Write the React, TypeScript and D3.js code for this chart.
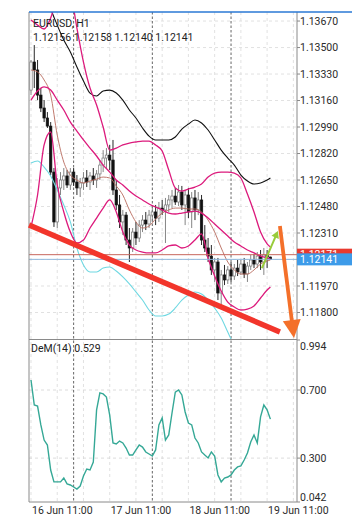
import React from 'react';
import * as d3 from 'd3';

// header
const symbol = 'EURUSD, H1';
const lastOhlc = ['1.12156', '1.12158', '1.12140', '1.12141'];

// hourly candles, bar 0 = 16 Jun 11:00
const opens = [1.13227, 1.13407, 1.13356, 1.13195, 1.13112, 1.13048, 1.12996, 1.12701, 1.12381, 1.12599,
  1.12650, 1.12676, 1.12618, 1.12701, 1.12637, 1.12599, 1.12631, 1.12663, 1.12637, 1.12676,
  1.12650, 1.12689, 1.12746, 1.12791, 1.12810, 1.12778, 1.12586, 1.12490, 1.12381, 1.12425,
  1.12265, 1.12214, 1.12316, 1.12278, 1.12361, 1.12393, 1.12368, 1.12425, 1.12445, 1.12406,
  1.12470, 1.12458, 1.12490, 1.12522, 1.12547, 1.12509, 1.12573, 1.12490, 1.12554, 1.12445,
  1.12535, 1.12458, 1.12522, 1.12265, 1.12214, 1.12162, 1.12073, 1.12124, 1.11925, 1.12041,
  1.12009, 1.12073, 1.12034, 1.12085, 1.12060, 1.12111, 1.12047, 1.12098, 1.12137, 1.12111,
  1.12162, 1.12124, 1.12169, 1.12156];
const highs = [1.13420, 1.13516, 1.13420, 1.13240, 1.13163, 1.13086, 1.13022, 1.12727, 1.12663, 1.12701,
  1.12727, 1.12714, 1.12727, 1.12727, 1.12682, 1.12663, 1.12701, 1.12714, 1.12701, 1.12727,
  1.12714, 1.12778, 1.12842, 1.12855, 1.12875, 1.12907, 1.12650, 1.12554, 1.12458, 1.12445,
  1.12342, 1.12342, 1.12381, 1.12393, 1.12425, 1.12445, 1.12458, 1.12490, 1.12490, 1.12509,
  1.12522, 1.12535, 1.12554, 1.12586, 1.12599, 1.12618, 1.12612, 1.12586, 1.12599, 1.12573,
  1.12586, 1.12573, 1.12554, 1.12361, 1.12278, 1.12233, 1.12150, 1.12150, 1.12073, 1.12105,
  1.12098, 1.12124, 1.12111, 1.12137, 1.12137, 1.12150, 1.12124, 1.12169, 1.12175, 1.12188,
  1.12201, 1.12214, 1.12201, 1.12158];
const lows = [1.13195, 1.13240, 1.13163, 1.13086, 1.13022, 1.12984, 1.12682, 1.12349, 1.12342, 1.12554,
  1.12586, 1.12599, 1.12586, 1.12612, 1.12554, 1.12541, 1.12586, 1.12605, 1.12586, 1.12618,
  1.12599, 1.12650, 1.12701, 1.12727, 1.12714, 1.12554, 1.12458, 1.12342, 1.12297, 1.12233,
  1.12124, 1.12188, 1.12233, 1.12252, 1.12316, 1.12329, 1.12342, 1.12381, 1.12361, 1.12381,
  1.12425, 1.12246, 1.12445, 1.12470, 1.12490, 1.12483, 1.12458, 1.12361, 1.12406, 1.12342,
  1.12393, 1.12425, 1.12233, 1.12188, 1.12124, 1.12041, 1.11996, 1.11880, 1.11848, 1.11976,
  1.11983, 1.11996, 1.12009, 1.12034, 1.12041, 1.12021, 1.11996, 1.12073, 1.12085, 1.12085,
  1.12073, 1.12041, 1.12085, 1.12140];
const closes = [1.13407, 1.13356, 1.13195, 1.13112, 1.13048, 1.12996, 1.12701, 1.12381, 1.12599, 1.12650,
  1.12676, 1.12618, 1.12701, 1.12637, 1.12599, 1.12631, 1.12663, 1.12637, 1.12676, 1.12650,
  1.12689, 1.12746, 1.12791, 1.12810, 1.12778, 1.12586, 1.12490, 1.12381, 1.12425, 1.12265,
  1.12214, 1.12316, 1.12278, 1.12361, 1.12393, 1.12368, 1.12425, 1.12445, 1.12406, 1.12470,
  1.12458, 1.12490, 1.12522, 1.12547, 1.12509, 1.12573, 1.12490, 1.12554, 1.12445, 1.12535,
  1.12458, 1.12522, 1.12265, 1.12214, 1.12162, 1.12073, 1.12124, 1.11925, 1.12041, 1.12009,
  1.12073, 1.12034, 1.12085, 1.12060, 1.12111, 1.12047, 1.12098, 1.12137, 1.12111, 1.12162,
  1.12124, 1.12169, 1.12156, 1.12141];

// indicator lines, read every second bar
const ovIdx = [0, 2, 4, 6, 8, 10, 12, 14, 16, 18, 20, 22, 24, 26, 28, 30, 32, 34, 36, 38,
  40, 42, 44, 46, 48, 50, 52, 54, 56, 58, 60, 62, 64, 66, 68, 70, 72, 73];
const bbUpper = [1.13676, 1.13644, 1.13619, 1.13689, 1.13837, 1.13965, 1.13869, 1.13625, 1.13407, 1.13240,
  1.13131, 1.12990, 1.12842, 1.12855, 1.12875, 1.12887, 1.12894, 1.12900, 1.12900, 1.12875,
  1.12836, 1.12714, 1.12599, 1.12579, 1.12592, 1.12605, 1.12624, 1.12669, 1.12695, 1.12701,
  1.12701, 1.12695, 1.12663, 1.12560, 1.12445, 1.12316, 1.12240, 1.12220];
const bbMiddle = [1.13163, 1.13221, 1.13247, 1.13227, 1.13163, 1.13099, 1.13022, 1.12964, 1.12907, 1.12855,
  1.12804, 1.12746, 1.12701, 1.12650, 1.12618, 1.12579, 1.12547, 1.12522, 1.12496, 1.12477,
  1.12458, 1.12438, 1.12432, 1.12438, 1.12445, 1.12451, 1.12438, 1.12406, 1.12368, 1.12329,
  1.12291, 1.12252, 1.12227, 1.12201, 1.12182, 1.12162, 1.12150, 1.12143];
const bbLower = [1.12349, 1.12554, 1.12875, 1.12958, 1.12618, 1.12445, 1.12316, 1.12246, 1.12265, 1.12342,
  1.12406, 1.12470, 1.12522, 1.12445, 1.12316, 1.12233, 1.12201, 1.12188, 1.12182, 1.12182,
  1.12201, 1.12227, 1.12233, 1.12214, 1.12227, 1.12265, 1.12304, 1.12150, 1.12034, 1.11938,
  1.11867, 1.11835, 1.11816, 1.11822, 1.11842, 1.11893, 1.11944, 1.11964];
const maLine = [1.13356, 1.13343, 1.13292, 1.13195, 1.12939, 1.12765, 1.12682, 1.12650, 1.12631, 1.12644,
  1.12656, 1.12669, 1.12663, 1.12612, 1.12554, 1.12458, 1.12381, 1.12342, 1.12355, 1.12400,
  1.12438, 1.12458, 1.12470, 1.12470, 1.12464, 1.12464, 1.12445, 1.12393, 1.12316, 1.12214,
  1.12124, 1.12073, 1.12047, 1.12047, 1.12073, 1.12111, 1.12130, 1.12137];
const envUpper = [1.14190, 1.14061, 1.13920, 1.13753, 1.13644, 1.13548, 1.13471, 1.13375, 1.13285, 1.13208,
  1.13189, 1.13221, 1.13227, 1.13208, 1.13163, 1.13099, 1.13048, 1.12984, 1.12932, 1.12907,
  1.12907, 1.12907, 1.12926, 1.12977, 1.13009, 1.13035, 1.13016, 1.12971, 1.12907, 1.12842,
  1.12791, 1.12746, 1.12682, 1.12644, 1.12624, 1.12631, 1.12650, 1.12663];
const envLower = [1.12759, 1.12772, 1.12733, 1.12676, 1.12586, 1.12490, 1.12381, 1.12214, 1.12105, 1.12060,
  1.12060, 1.12085, 1.12092, 1.12066, 1.12028, 1.11983, 1.11932, 1.11880, 1.11816, 1.11778,
  1.11778, 1.11790, 1.11829, 1.11880, 1.11912, 1.11932, 1.11919, 1.11880, 1.11829, 1.11765,
  1.11675, 1.11585, 1.11508, 1.11444, 1.11393, 1.11354, 1.11329, 1.11316];

// DeMarker(14), one per bar
const dem = [0.759, 0.612, 0.606, 0.495, 0.406, 0.377, 0.230, 0.160, 0.160, 0.160,
  0.183, 0.148, 0.142, 0.130, 0.118, 0.136, 0.195, 0.236, 0.230, 0.277,
  0.583, 0.683, 0.677, 0.659, 0.553, 0.389, 0.383, 0.400, 0.389, 0.359,
  0.318, 0.318, 0.348, 0.377, 0.365, 0.336, 0.324, 0.312, 0.348, 0.495,
  0.536, 0.406, 0.436, 0.565, 0.688, 0.700, 0.671, 0.571, 0.506, 0.495,
  0.418, 0.389, 0.336, 0.318, 0.301, 0.336, 0.312, 0.201, 0.160, 0.183,
  0.189, 0.201, 0.230, 0.248, 0.254, 0.289, 0.330, 0.395, 0.436, 0.389,
  0.542, 0.612, 0.583, 0.529];
const demName = 'DeM(14)';

// axes
const priceTicks = [1.1367, 1.135, 1.1333, 1.1316, 1.1299, 1.1282, 1.1265, 1.1248, 1.1231, 1.1214, 1.1197, 1.118];
const demTicks = [0.994, 0.7, 0.3, 0.042];
const demGrid = [0.7, 0.3];
const gridBars = [0, 8, 16, 24, 32, 40, 48, 56, 64, 72, 80];
const daySeparators = [13, 37, 61];
const timeBars = [0, 24, 48, 72];
const timeTexts = ['16 Jun 11:00', '17 Jun 11:00', '18 Jun 11:00', '19 Jun 11:00'];
const askPrice = 1.12171;
const bidPrice = 1.12141;

// drawings [bar, price]
const trendLine = [[-0.6, 1.12361], [75.9, 1.11675]];
const downArrow = [[75.9, 1.12355], [80.2, 1.11636]];
const upArrow = [[70.4, 1.12085], [75.3, 1.12323]];

const L = 29, R = 297, T = 12, MB = 339, DB = 502;
const font = 'Roboto, "DejaVu Sans", sans-serif';

function head(x1, y1, x2, y2, len, half) {
  const dx = x2 - x1, dy = y2 - y1;
  const n = Math.sqrt(dx * dx + dy * dy);
  const ux = dx / n, uy = dy / n;
  const bx = x2 - ux * len, by = y2 - uy * len;
  return [[x2, y2], [bx - uy * half, by + ux * half], [bx + uy * half, by - ux * half]]
    .map(p => p.join(',')).join(' ');
}

export default function App() {
  const x = d3.scaleLinear().domain([0, 73]).range([31, 270.4]);
  const y = d3.scaleLinear().domain([1.1163, 1.13728]).range([MB, T]);
  const yd = d3.scaleLinear().domain([0.042, 0.994]).range([DB, 340]);

  const ovPath = (vals) => d3.line()
    .x((_, k) => x(ovIdx[k]))
    .y(v => y(v))
    .curve(d3.curveMonotoneX)(vals);

  const demPath = d3.line()
    .x((_, k) => x(k))
    .y(v => yd(v))(dem);

  const tl = trendLine.map(d => [x(d[0]), y(d[1])]);
  const da = downArrow.map(d => [x(d[0]), y(d[1])]);
  const ua = upArrow.map(d => [x(d[0]), y(d[1])]);

  // shorten the arrow shafts so the heads sit at the tip
  const shaft = (a, len) => {
    const dx = a[1][0] - a[0][0], dy = a[1][1] - a[0][1];
    const n = Math.sqrt(dx * dx + dy * dy);
    return [a[1][0] - dx / n * len, a[1][1] - dy / n * len];
  };
  const daEnd = shaft(da, 14);
  const uaEnd = shaft(ua, 5);

  const askY = y(askPrice), bidY = y(bidPrice);

  return (
    <div>
      <style>{'body{margin:0;background:#fff}'}</style>
      <svg width={362} height={527} style={{ display: 'block', fontFamily: font }}>
        <defs>
          <clipPath id="main-clip">
            <rect x={L} y={T} width={R - L} height={MB - T} />
          </clipPath>
          <clipPath id="dem-clip">
            <rect x={L} y={MB} width={R - L} height={DB - MB} />
          </clipPath>
          <clipPath id="ask-clip">
            <rect x={R} y={askY - 6} width={55} height={bidY - askY} />
          </clipPath>
        </defs>
        <rect width={362} height={527} fill="#fff" />

        {/* grid */}
        {gridBars.map(b => (
          <line key={'gv' + b} x1={x(b)} x2={x(b)} y1={T} y2={DB}
            stroke="#d9d9d9" strokeWidth={0.8} strokeDasharray="3,3" />
        ))}
        {priceTicks.map(p => (
          <line key={'gh' + p} x1={L} x2={R} y1={y(p)} y2={y(p)}
            stroke="#d9d9d9" strokeWidth={0.8} strokeDasharray="3,3" />
        ))}
        {demGrid.map(v => (
          <line key={'gd' + v} x1={L} x2={R} y1={yd(v)} y2={yd(v)}
            stroke="#d3d3d3" strokeWidth={0.8} strokeDasharray="3,3" />
        ))}
        {daySeparators.map(b => (
          <line key={'sep' + b} x1={x(b)} x2={x(b)} y1={T} y2={DB}
            stroke="#666" strokeWidth={1} strokeDasharray="2.5,2" />
        ))}

        <g clipPath="url(#main-clip)">
          {/* candles */}
          {closes.map((c, i) => {
            const o = opens[i];
            const up = c >= o;
            const top = y(Math.max(o, c));
            const h = Math.max(0.8, Math.abs(y(o) - y(c)));
            return (
              <g key={'c' + i}>
                <line x1={x(i)} x2={x(i)} y1={y(highs[i])} y2={y(lows[i])}
                  stroke={up ? '#777' : '#111'} strokeWidth={0.9} />
                <rect x={x(i) - 1.2} y={top} width={2.4} height={h}
                  fill={up ? '#fff' : '#111'} stroke={up ? '#777' : '#111'} strokeWidth={0.7} />
              </g>
            );
          })}

          <path d={ovPath(envUpper)} fill="none" stroke="#111" strokeWidth={1.1} />
          <path d={ovPath(envLower)} fill="none" stroke="#6fd8e2" strokeWidth={1.1} />
          <path d={ovPath(maLine)} fill="none" stroke="#b86a5c" strokeWidth={0.9} />
          <path d={ovPath(bbUpper)} fill="none" stroke="#dc1a7c" strokeWidth={1.3} />
          <path d={ovPath(bbMiddle)} fill="none" stroke="#dc1a7c" strokeWidth={1.3} />
          <path d={ovPath(bbLower)} fill="none" stroke="#dc1a7c" strokeWidth={1.3} />

          <line x1={L} x2={R} y1={askY} y2={askY} stroke="#c8665c" strokeWidth={1} />
          <line x1={L} x2={R} y1={bidY} y2={bidY} stroke="#8fb8dc" strokeWidth={1} />
        </g>

        {/* DeM */}
        <g clipPath="url(#dem-clip)">
          <path d={demPath} fill="none" stroke="#35a896" strokeWidth={1.4} />
        </g>

        {/* frame */}
        <line x1={L} x2={L} y1={T} y2={DB} stroke="#8a8a8a" strokeWidth={1} />
        <line x1={R} x2={R} y1={T} y2={DB} stroke="#8a8a8a" strokeWidth={1} />
        <line x1={L} x2={R} y1={MB + 0.5} y2={MB + 0.5} stroke="#8a8a8a" strokeWidth={1} />
        <line x1={L} x2={R} y1={DB} y2={DB} stroke="#8a8a8a" strokeWidth={1} />
        <line x1={L} x2={352} y1={T} y2={T} stroke="#2a78d4" strokeWidth={1.6} />

        {/* price axis; the label hidden under the price tags is left out */}
        {priceTicks.map(p => (
          <g key={'pt' + p}>
            <line x1={R} x2={R + 3} y1={y(p)} y2={y(p)} stroke="#8a8a8a" />
            {Math.abs(y(p) - bidY) > 8 && (
              <text x={R + 3} y={y(p)} dy="0.35em" fontSize={10.5} fill="#2b2b2b">{p.toFixed(5)}</text>
            )}
          </g>
        ))}
        <rect x={R} y={askY - 6} width={55} height={12} fill="#e8392f" />
        <g clipPath="url(#ask-clip)">
          <text x={R + 3} y={askY} dy="0.35em" fontSize={10.5} fill="#fff">{askPrice.toFixed(5)}</text>
        </g>
        <rect x={R} y={bidY - 6} width={55} height={12} fill="#3d9be9" />
        <text x={R + 3} y={bidY} dy="0.35em" fontSize={10.5} fill="#fff">{bidPrice.toFixed(5)}</text>

        {/* DeM axis */}
        {demTicks.map(v => {
          const cy = Math.min(Math.max(yd(v), 346), 497);
          return (
            <g key={'dt' + v}>
              <line x1={R} x2={R + 3} y1={yd(v)} y2={yd(v)} stroke="#8a8a8a" />
              <text x={R + 3} y={cy} dy="0.35em" fontSize={10.5} fill="#2b2b2b">{v.toFixed(3)}</text>
            </g>
          );
        })}

        {/* time axis */}
        {timeBars.map((b, k) => (
          <text key={'tx' + b} x={x(b) + 1} y={510} dy="0.35em" fontSize={10.5} fill="#2b2b2b">{timeTexts[k]}</text>
        ))}

        {/* drawings */}
        <line x1={tl[0][0]} y1={tl[0][1]} x2={tl[1][0]} y2={tl[1][1]}
          stroke="#f2352b" strokeWidth={5.5} />
        <line x1={da[0][0]} y1={da[0][1]} x2={daEnd[0]} y2={daEnd[1]}
          stroke="#f4702a" strokeWidth={3.8} />
        <polygon points={head(da[0][0], da[0][1], da[1][0], da[1][1], 18, 9)} fill="#f4702a" />
        <line x1={ua[0][0]} y1={ua[0][1]} x2={uaEnd[0]} y2={uaEnd[1]}
          stroke="#98cc3a" strokeWidth={2} />
        <polygon points={head(ua[0][0], ua[0][1], ua[1][0], ua[1][1], 7, 4)} fill="#98cc3a" />

        {/* labels */}
        <text x={33} y={23} dy="0.35em" fontSize={10.5} fill="#222">{symbol}</text>
        <text x={33} y={37} dy="0.35em" fontSize={10.5} fill="#222">{lastOhlc.join(' ')}</text>
        <text x={31} y={348} dy="0.35em" fontSize={10.5} fill="#222">{demName + ' ' + dem[dem.length - 1].toFixed(3)}</text>
      </svg>
    </div>
  );
}
